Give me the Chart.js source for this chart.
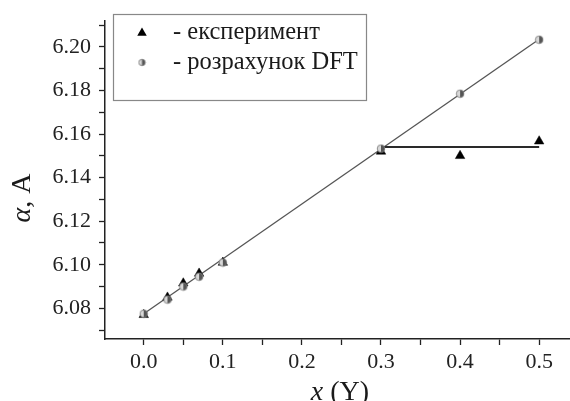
<!DOCTYPE html>
<html><head><meta charset="utf-8">
<script src="https://cdn.jsdelivr.net/npm/chart.js"></script>
<style>html,body{margin:0;padding:0;background:#fff}#wrap{width:570px;height:401px}</style>
</head><body><div id="wrap"><canvas id="c" width="570" height="401"></canvas></div>
<script>
// ---- data ----
const expX = [0, 0.03, 0.05, 0.07, 0.1, 0.3, 0.4, 0.5];
const expY = [6.077, 6.085, 6.0915, 6.096, 6.101, 6.152, 6.150, 6.1567];
const dftX = [0, 0.03, 0.05, 0.07, 0.1, 0.3, 0.4, 0.5];
const dftY = [6.0775, 6.084, 6.090, 6.0945, 6.101, 6.1533, 6.1785, 6.2033];
const fitX = [0, 0.5];
const fitY = [6.0775, 6.2035];
const flatX = [0.3, 0.5];
const flatY = [6.1540, 6.1540];
const xTickValues = [0, 0.05, 0.1, 0.15, 0.2, 0.25, 0.3, 0.35, 0.4, 0.45, 0.5];
const xTickLabels = ['0.0', '', '0.1', '', '0.2', '', '0.3', '', '0.4', '', '0.5'];
const yTickValues = [6.07, 6.08, 6.09, 6.10, 6.11, 6.12, 6.13, 6.14, 6.15, 6.16, 6.17, 6.18, 6.19, 6.20, 6.21];
const yTickLabels = ['', '6.08', '', '6.10', '', '6.12', '', '6.14', '', '6.16', '', '6.18', '', '6.20', ''];
const legendLabels = ['- експеримент', '- розрахунок DFT'];
const xTitleParts = ['x', ' (Y)'];
const yTitleParts = ['α', ', A'];

const pts = (xs, ys) => xs.map((x, i) => ({x: x, y: ys[i]}));
const SERIF = '"Liberation Serif", "DejaVu Serif", serif';

function halfCircle(r) {
  const c = document.createElement('canvas');
  const s = Math.ceil(2 * r + 2);
  c.width = s; c.height = s;
  const g = c.getContext('2d');
  const m = s / 2;
  g.beginPath(); g.arc(m, m, r, 0, Math.PI * 2); g.fillStyle = '#d8d8d8'; g.fill();
  g.beginPath(); g.moveTo(m, m - r); g.arc(m, m, r, -Math.PI / 2, Math.PI / 2); g.closePath();
  g.fillStyle = '#555'; g.fill();
  g.beginPath(); g.arc(m, m, r, 0, Math.PI * 2); g.strokeStyle = '#777'; g.lineWidth = 0.8; g.stroke();
  return c;
}
const circleImg = halfCircle(3.8);
const legendCircleImg = halfCircle(3.2);

const overlay = {
  id: 'overlay',
  afterDraw(chart) {
    const ctx = chart.ctx;
    ctx.save();
    // legend box
    ctx.strokeStyle = '#888'; ctx.lineWidth = 1.2;
    ctx.strokeRect(113.5, 14.5, 253, 86);
    // triangle marker
    const tx = 142, ty = 33, r = 5.5;
    ctx.beginPath();
    for (let k = 0; k < 3; k++) {
      const a = k * 2 * Math.PI / 3;
      const px = tx + Math.sin(a) * r, py = ty - Math.cos(a) * r;
      k ? ctx.lineTo(px, py) : ctx.moveTo(px, py);
    }
    ctx.closePath(); ctx.fillStyle = '#000'; ctx.fill();
    ctx.drawImage(legendCircleImg, 142 - legendCircleImg.width / 2, 62.5 - legendCircleImg.height / 2);
    ctx.fillStyle = '#1a1a1a';
    ctx.font = '24.5px ' + SERIF;
    ctx.textBaseline = 'alphabetic'; ctx.textAlign = 'left';
    ctx.fillText(legendLabels[0], 173, 39);
    ctx.fillText(legendLabels[1], 173, 69);
    // x title
    const fI = 'italic 28px ' + SERIF, fN = '28px ' + SERIF;
    ctx.font = fI; const w1 = ctx.measureText(xTitleParts[0]).width;
    ctx.font = fN; const w2 = ctx.measureText(xTitleParts[1]).width;
    let sx = 340 - (w1 + w2) / 2;
    ctx.font = fI; ctx.fillText(xTitleParts[0], sx, 400);
    ctx.font = fN; ctx.fillText(xTitleParts[1], sx + w1, 400);
    // y title
    ctx.translate(30, 198); ctx.rotate(-Math.PI / 2);
    ctx.font = fI; const v1 = ctx.measureText(yTitleParts[0]).width;
    ctx.font = fN; const v2 = ctx.measureText(yTitleParts[1]).width;
    sx = -(v1 + v2) / 2;
    ctx.font = fI; ctx.fillText(yTitleParts[0], sx, 0);
    ctx.font = fN; ctx.fillText(yTitleParts[1], sx + v1, 0);
    ctx.restore();
  }
};

new Chart(document.getElementById('c'), {
  type: 'scatter',
  data: {
    datasets: [
      {label: 'exp', data: pts(expX, expY), pointStyle: 'triangle', pointRadius: 5.5,
       backgroundColor: '#000', borderColor: '#000', borderWidth: 0.5, order: 1},
      {label: 'dft', data: pts(dftX, dftY), pointStyle: circleImg, pointRadius: 4, order: 0},
      {label: 'fit', data: pts(fitX, fitY), showLine: true, pointRadius: 0,
       borderColor: '#555', borderWidth: 1.3, order: 3},
      {label: 'flat', data: pts(flatX, flatY), showLine: true, pointRadius: 0,
       borderColor: '#2a2a2a', borderWidth: 2, order: 2}
    ]
  },
  options: {
    responsive: false, animation: false, devicePixelRatio: 1,
    layout: {autoPadding: false, padding: {top: 18, right: 0, left: 0, bottom: 0}},
    plugins: {legend: {display: false}, tooltip: {enabled: false}},
    scales: {
      x: {
        type: 'linear', min: -0.049, max: 0.539,
        afterBuildTicks: s => { s.ticks = xTickValues.map(v => ({value: v})); },
        afterFit: s => { s.height = 62; },
        ticks: {
          autoSkip: false, maxRotation: 0, padding: 4, color: '#222',
          font: {family: SERIF, size: 22},
          callback: (v, i) => xTickLabels[i]
        },
        grid: {drawOnChartArea: false, drawTicks: true, tickLength: 6, tickColor: '#222', tickWidth: 1.3},
        border: {color: '#222', width: 1.5}
      },
      y: {
        type: 'linear', min: 6.0659, max: 6.2118,
        afterBuildTicks: s => { s.ticks = yTickValues.map(v => ({value: v})); },
        afterFit: s => { s.width = 105; },
        ticks: {
          autoSkip: false, padding: 8, color: '#222',
          font: {family: SERIF, size: 22},
          callback: (v, i) => yTickLabels[i]
        },
        grid: {drawOnChartArea: false, drawTicks: true, tickLength: 6, tickColor: '#222', tickWidth: 1.3},
        border: {color: '#222', width: 1.5}
      }
    }
  },
  plugins: [overlay]
});
</script>
</body></html>
